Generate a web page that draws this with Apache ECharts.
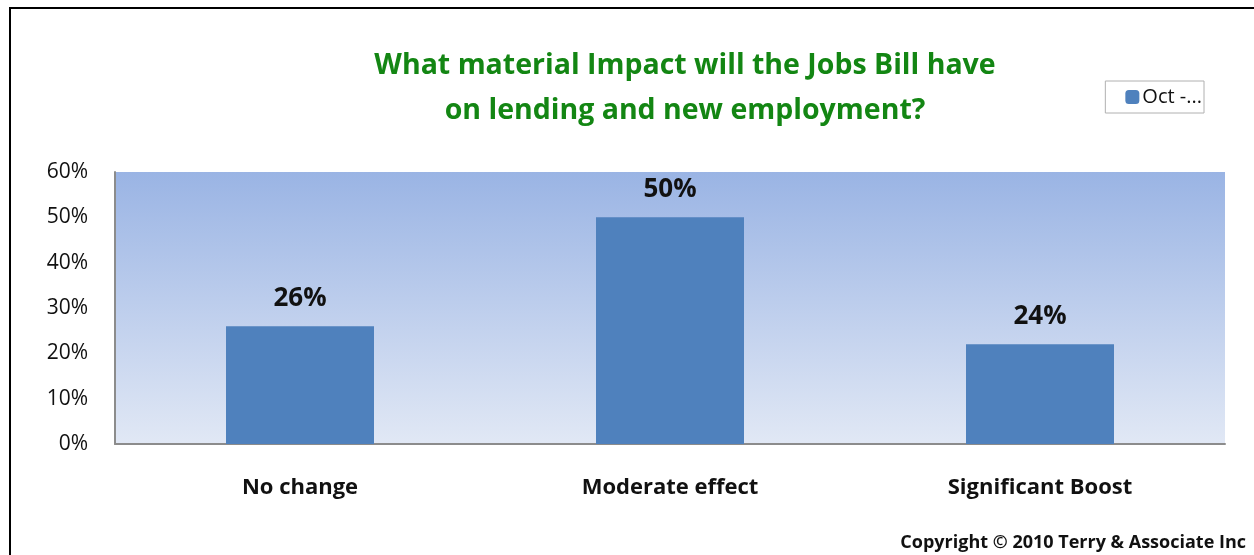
<!DOCTYPE html>
<html><head><meta charset="utf-8">
<script src="https://cdn.jsdelivr.net/npm/echarts@6/dist/echarts.min.js"></script>
<style>html,body{margin:0;padding:0;background:#fff}#c{width:1254px;height:555px}</style>
</head><body><div id="c"></div>
<script>
const categories = ["No change", "Moderate effect", "Significant Boost"];
const values = [26, 50, 22];
const valueLabels = ["26%", "50%", "24%"];
const seriesName = "Oct -...";
const yTicks = [0, 10, 20, 30, 40, 50, 60];
const titleText = "What material Impact will the Jobs Bill have\non lending and new employment?";
const copyright = "Copyright \u00a9 2010 Terry & Associate Inc";

const chart = echarts.init(document.getElementById('c'));
const F = "'Open Sans', 'Liberation Sans', sans-serif";
chart.setOption({
  animation: false,
  title: {
    text: titleText, left: 680, top: 38, textAlign: 'center',
    textStyle: {color: '#138613', fontSize: 28.5, fontWeight: 'bold', fontFamily: F, lineHeight: 45}
  },
  legend: {
    data: [seriesName], right: 50, top: 81, itemWidth: 14, itemHeight: 14, itemGap: 4,
    borderColor: '#b0b0b0', borderWidth: 1, padding: [6, 2, 6, 20], borderRadius: 0,
    textStyle: {fontSize: 20, color: '#111', fontFamily: F, padding: [0,0,0,-2]}
  },
  grid: {left: 115, right: 29, top: 172, bottom: 111, show: true, borderWidth: 0,
    backgroundColor: new echarts.graphic.LinearGradient(0,0,0,1,[{offset:0,color:'#9ab4e4'},{offset:1,color:'#e1e8f5'}])},
  xAxis: {
    type: 'category', data: categories,
    axisLine: {lineStyle: {color: '#8c8c8c', width: 2}},
    axisTick: {show: false},
    axisLabel: {fontSize: 22, fontWeight: 'bold', color: '#111', fontFamily: F, margin: 33}
  },
  yAxis: {
    type: 'value', min: yTicks[0], max: yTicks[yTicks.length-1], interval: 10,
    axisLine: {show: true, lineStyle: {color: '#8c8c8c', width: 2}},
    axisTick: {show: false}, splitLine: {show: false},
    axisLabel: {fontSize: 21, color: '#111', fontFamily: F, margin: 27, formatter: v => v + '%'}
  },
  series: [{
    name: seriesName, type: 'bar', data: values, barCategoryGap: '60%',
    itemStyle: {color: '#4f81bd'},
    label: {show: true, position: 'top', distance: 15, fontSize: 26, fontWeight: 'bold', color: '#111', fontFamily: F,
      formatter: p => valueLabels[p.dataIndex]}
  }],
  graphic: [
    {type: 'rect', shape: {x: 10, y: 8, width: 1254, height: 600}, style: {fill: 'none', stroke: '#000', lineWidth: 2}, silent: true},
    {type: 'text', right: 8, top: 534, style: {text: copyright, fontSize: 18, fontWeight: 'bold', fill: '#111', fontFamily: F}}
  ]
});
</script></body></html>
